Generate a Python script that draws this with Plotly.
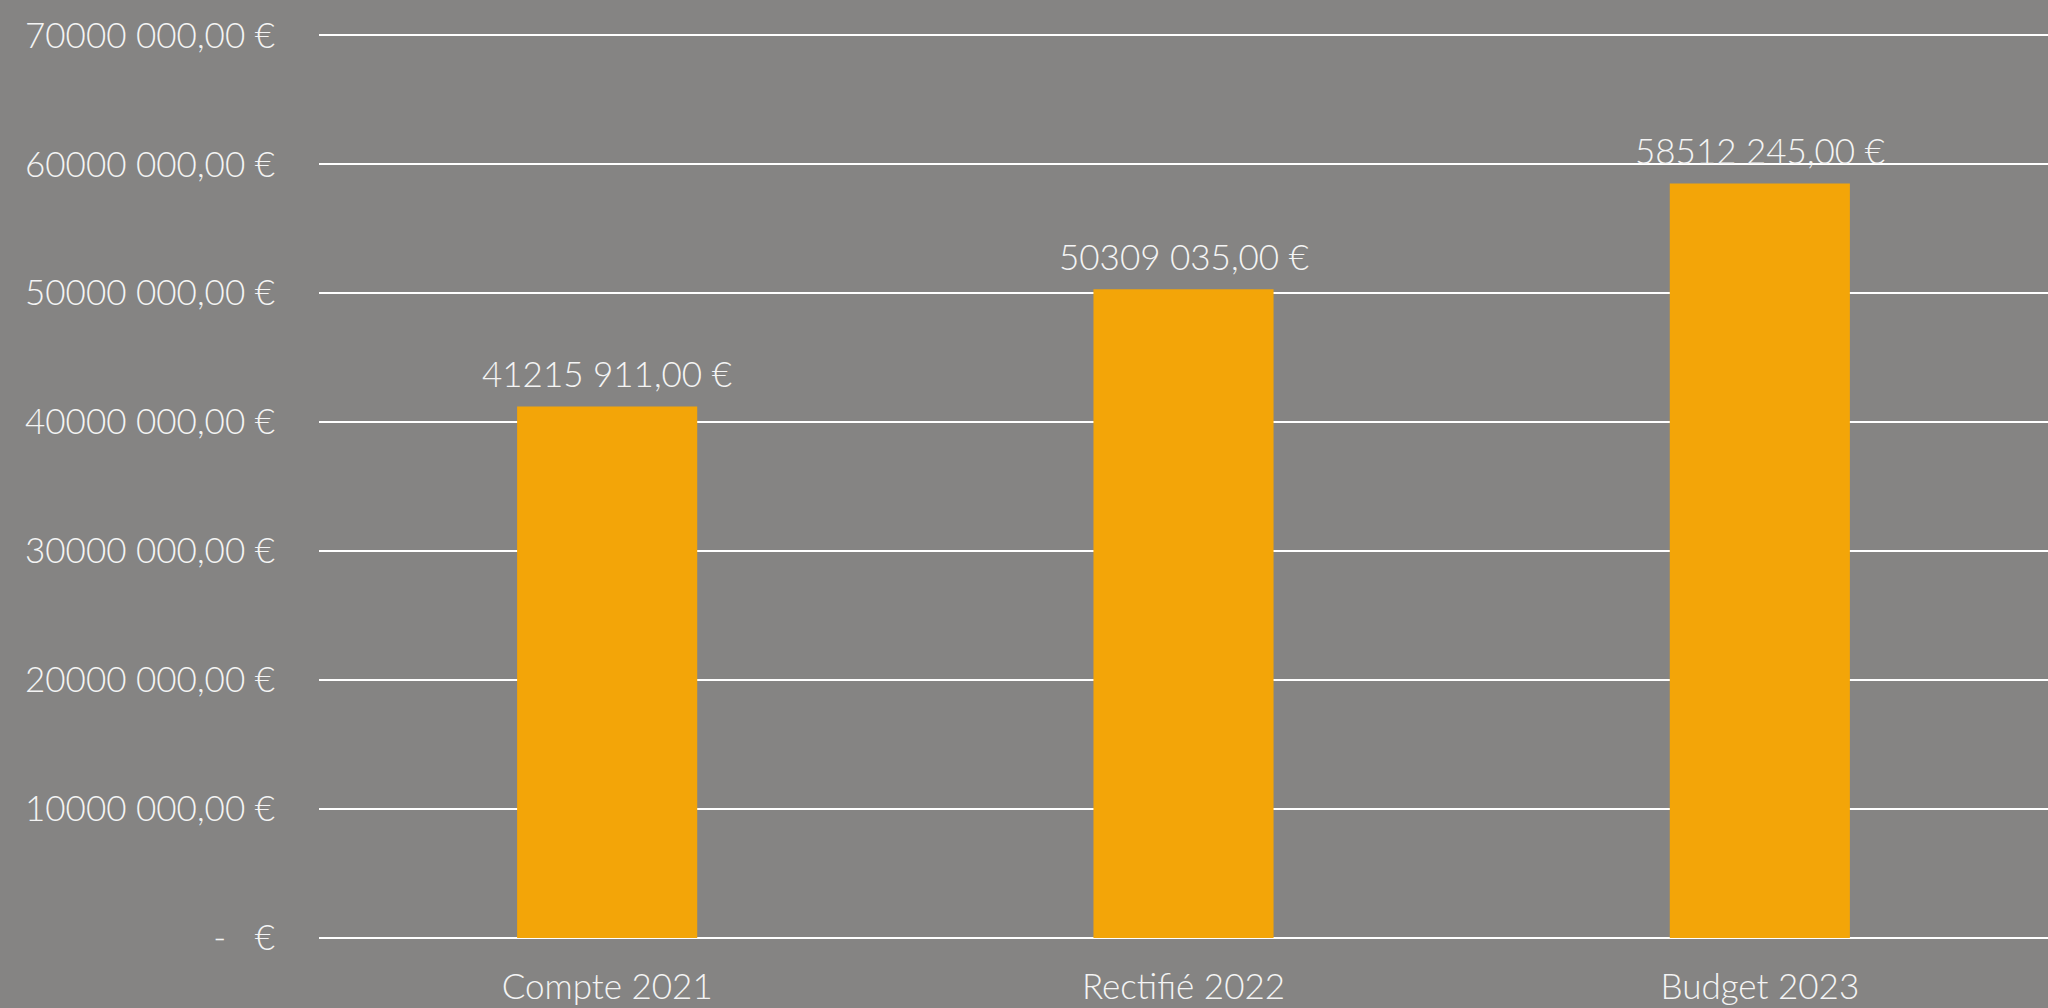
import plotly.graph_objects as go

categories = ["Compte 2021", "Rectifié 2022", "Budget 2023"]
values = [41215911.00, 50309035.00, 58512245.00]
value_labels = ["41215 911,00 €", "50309 035,00 €", "58512 245,00 €"]
tick_vals = [0, 10000000, 20000000, 30000000, 40000000, 50000000, 60000000, 70000000]
tick_text = ["-\u00a0\u00a0\u00a0€", "10000 000,00 €", "20000 000,00 €", "30000 000,00 €",
             "40000 000,00 €", "50000 000,00 €", "60000 000,00 €", "70000 000,00 €"]

FONT = "Lato"
TXT = "#F4F4F4"
W = 300

fig = go.Figure(go.Bar(
    x=categories, y=values,
    marker=dict(color="#F3A508", line=dict(width=0)),
    width=0.3125,
    hoverinfo="skip",
))

for cat, val, lab in zip(categories, values, value_labels):
    fig.add_annotation(x=cat, y=val, text=lab, showarrow=False,
                       xanchor="center", yanchor="middle", yshift=33,
                       font=dict(family=FONT, size=35, color=TXT, weight=W))

fig.update_layout(
    width=2048, height=1008,
    margin=dict(l=319, r=0, t=34, b=70),
    paper_bgcolor="#858483", plot_bgcolor="rgba(0,0,0,0)",
    showlegend=False,
    font=dict(family=FONT, size=35, color=TXT, weight=W),
    xaxis=dict(showgrid=False, zeroline=False, showline=False, ticks="",
               tickfont=dict(family=FONT, size=35, color=TXT, weight=W), ticklabelstandoff=25),
    yaxis=dict(range=[0, 70100000], tickvals=tick_vals, ticktext=tick_text,
               showgrid=True, gridcolor="#FFFFFF", gridwidth=2,
               zeroline=True, zerolinecolor="#FFFFFF", zerolinewidth=2,
               showline=False, ticks="", ticklabelstandoff=43,
               tickfont=dict(family=FONT, size=35, color=TXT, weight=W)),
)

fig.write_html("out.html", config={"displayModeBar": False},
               post_script="document.body.style.margin='0';document.body.style.overflow='hidden';document.body.style.background='#858483';")
